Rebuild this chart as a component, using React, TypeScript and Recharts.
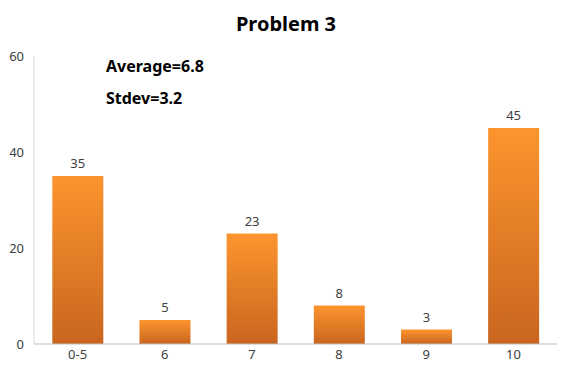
import React from "react";
import { BarChart, Bar, XAxis, YAxis, LabelList } from "recharts";

const categories = ["0-5", "6", "7", "8", "9", "10"];
const counts = [35, 5, 23, 8, 3, 45];
const yTicks = [0, 20, 40, 60];

const chartData = categories.map((name, i) => ({ name, value: counts[i] }));

const FONT = "'Noto Sans', 'Liberation Sans', sans-serif";

export default function App() {
	return (
		<div
			style={{
				position: "absolute",
				left: 0,
				top: 0,
				width: 572,
				height: 378,
				background: "#fff",
				fontFamily: FONT,
			}}
		>
			<div
				style={{
					position: "absolute",
					left: 0,
					width: 572,
					top: 10,
					textAlign: "center",
					fontSize: 20,
					fontWeight: 700,
					color: "#000",
				}}
			>
				Problem 3
			</div>
			<div
				style={{
					position: "absolute",
					left: 106,
					top: 55,
					fontSize: 16,
					fontWeight: 700,
					color: "#000",
				}}
			>
				Average=6.8
			</div>
			<div
				style={{
					position: "absolute",
					left: 106,
					top: 87,
					fontSize: 16,
					fontWeight: 700,
					color: "#000",
				}}
			>
				Stdev=3.2
			</div>
			<BarChart
				width={572}
				height={378}
				data={chartData}
				margin={{ top: 56, right: 15, bottom: 4, left: 0 }}
				barCategoryGap="21%"
			>
				<defs>
					<linearGradient id="barFill" x1="0" y1="0" x2="0" y2="1">
						<stop offset="0%" stopColor="#FC952E" />
						<stop offset="100%" stopColor="#C9651F" />
					</linearGradient>
				</defs>
				<XAxis
					dataKey="name"
					height={30}
					tickLine={false}
					tickSize={0}
					tickMargin={6}
					axisLine={{ stroke: "#BFBFBF" }}
					tick={{ fill: "#404040", fontSize: 13, fontFamily: FONT }}
				/>
				<YAxis
					width={34}
					domain={[0, 60]}
					ticks={yTicks}
					tickLine={false}
					tickSize={0}
					tickMargin={10}
					axisLine={{ stroke: "#D9D9D9" }}
					tick={{ fill: "#404040", fontSize: 13, fontFamily: FONT }}
				/>
				<Bar dataKey="value" fill="url(#barFill)" isAnimationActive={false}>
					<LabelList
						dataKey="value"
						position="top"
						offset={8}
						fill="#404040"
						fontSize={13}
						fontFamily={FONT}
					/>
				</Bar>
			</BarChart>
		</div>
	);
}
